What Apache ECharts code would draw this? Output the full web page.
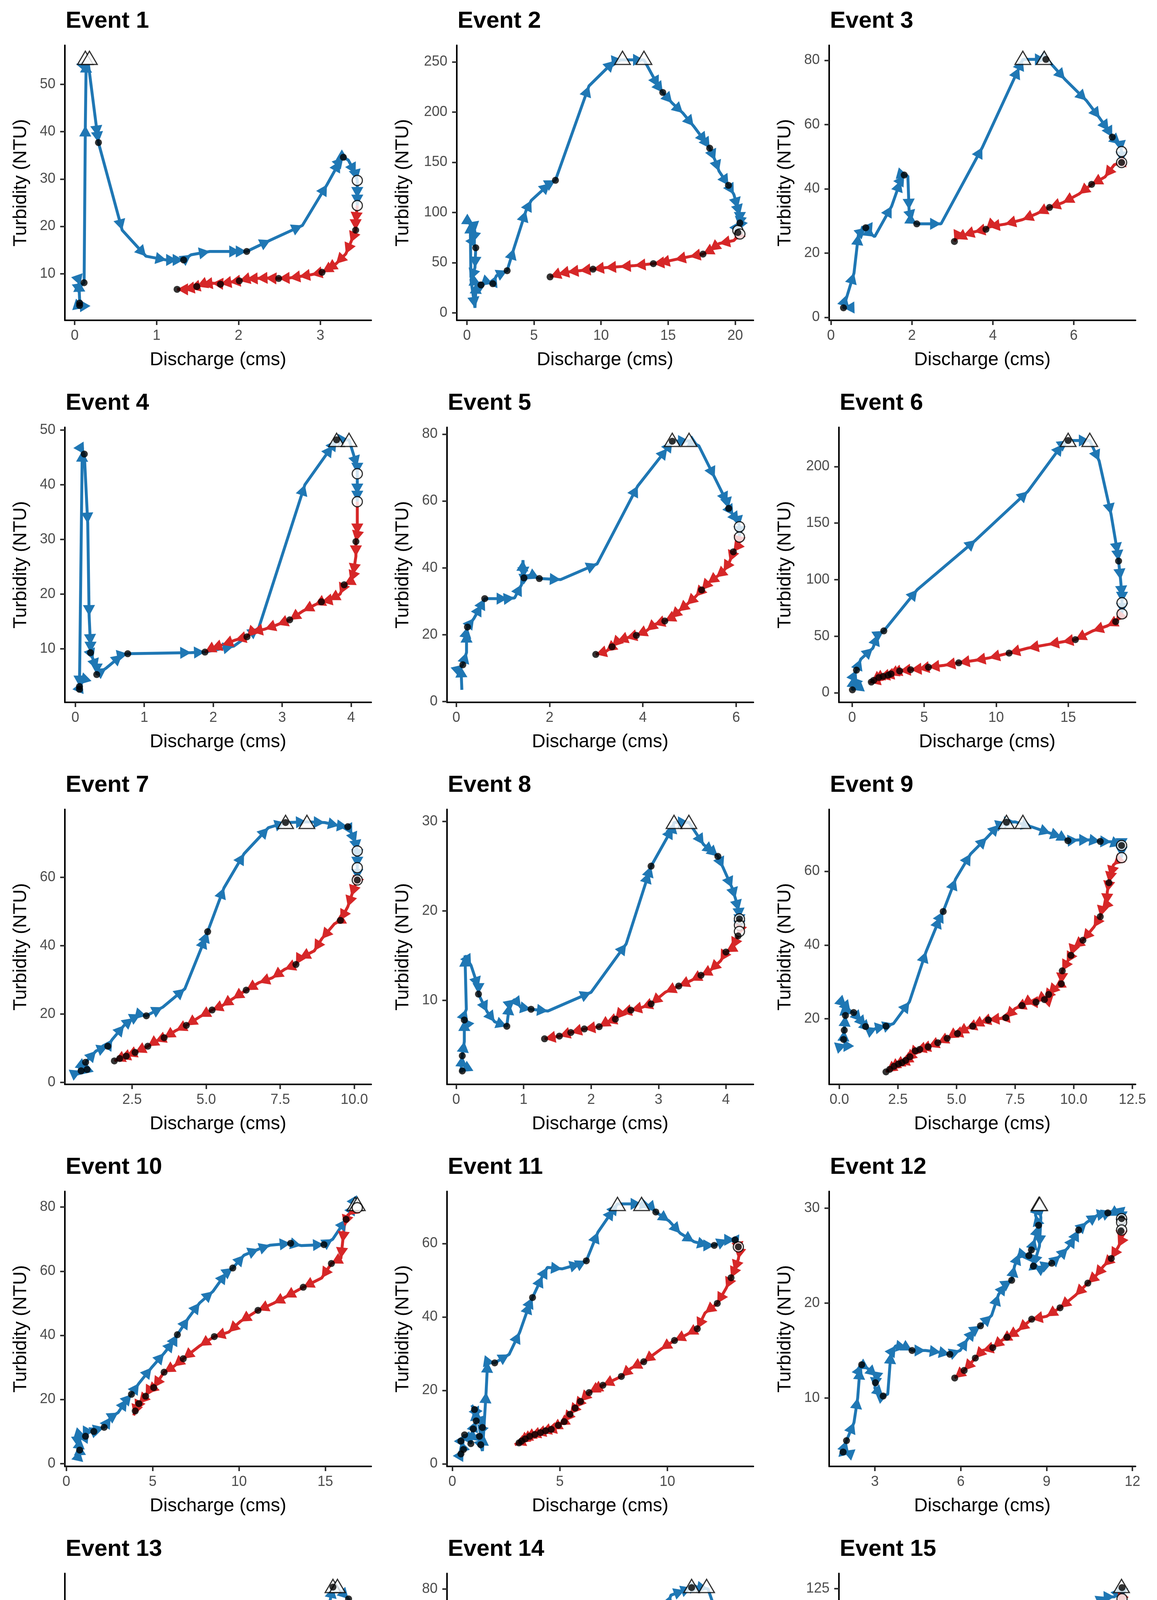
<!DOCTYPE html>
<html>
<head>
<meta charset="utf-8">
<script src="https://cdn.jsdelivr.net/npm/echarts@6.0.0/dist/echarts.min.js"></script>
<style>
  html, body { margin: 0; padding: 0; background: #fff; }
  #chart { width: 2961px; height: 5068px; }
</style>
</head>
<body>
<div id="chart"></div>
<script>
// ---- data: [discharge, turbidity] ----
const e1Rise = [[0.05,3.2],[0.12,2.8],[0.06,4.5],[0.05,8.5],[0.07,7.5],[0.115,8.1],[0.13,41.3],[0.14,54.8],[0.16,55.2],[0.28,39],[0.29,37.7],[0.58,19.2],[0.87,13.7],[1.12,12.9],[1.25,12.9],[1.33,12.9],[1.42,14],[1.65,14.7],[2.02,14.7],[2.1,14.7],[2.39,17.1],[2.78,20.2],[3.08,28.8],[3.24,33.8],[3.28,34.6],[3.34,34],[3.43,31.1],[3.45,29.7],[3.45,26],[3.45,24.4]];
const e1Fall = [[3.45,24.4],[3.43,20.7],[3.43,19.2],[3.37,16.6],[3.31,14.2],[3.19,12.1],[3.07,10.8],[3.02,10.3],[2.89,9.8],[2.74,9.4],[2.62,9.1],[2.49,9.0],[2.33,9.1],[2.22,9.0],[2.1,8.9],[2.01,8.5],[1.89,8.2],[1.78,7.9],[1.68,8.0],[1.55,7.7],[1.49,7.3],[1.4,6.9],[1.33,6.7],[1.25,6.7]];
const e1Dots = [[0.06,3.3],[0.06,3.8],[0.115,8.1],[0.29,37.7],[1.33,12.9],[2.1,14.7],[3.28,34.6],[3.43,19.2],[3.02,10.3],[2.49,9.0],[2.01,8.5],[1.78,7.8],[1.49,7.3],[1.25,6.7]];
const e1Peak = [[0.13,55.6],[0.18,55.6]];
const e1QMax = [[3.45,29.7],[3.45,24.4]];
const e1XTicks = [0, 1, 2, 3];
const e1YTicks = [10, 20, 30, 40, 50];

const e2Rise = [[0.3,35],[0.25,90],[0.5,88],[0.6,80],[0.45,70],[0.66,64.8],[0.6,45],[0.3,33],[0.6,5],[0.7,30],[1.05,27.8],[1.5,31],[1.93,29],[2.2,37],[3.0,42],[3.5,64],[4.4,101.5],[4.8,112],[6.2,129],[6.6,132],[9.1,226],[11.0,251],[11.6,252],[13.2,252],[14.3,225],[14.6,219.5],[15.3,209],[16.1,199],[16.9,186],[17.85,169],[18.1,164],[18.5,152],[18.8,141],[19.5,127],[19.9,118],[20.2,104],[20.35,97],[20.35,89.5],[20.3,85],[20.2,82],[20.35,78.5]];
const e2Fall = [[20.35,78.5],[19.9,72],[18.8,69],[18.1,62],[17.6,58.5],[16.6,56],[15.5,53],[14.3,49.6],[13.9,49],[12.5,47],[11.4,46],[10.3,45],[9.4,43.5],[8.4,42],[7.5,40.6],[6.8,38.7],[6.2,35.8]];
const e2Dots = [[0.66,64.8],[1.05,27.8],[1.93,29],[3.0,42],[6.6,132],[14.6,219.5],[18.1,164],[19.5,127],[20.35,89.5],[20.2,80],[17.6,58.5],[13.9,49],[9.4,43.5],[6.2,35.8]];
const e2Peak = [[11.6,254],[13.2,254]];
const e2QMax = [[20.2,82],[20.35,78.5]];
const e2XTicks = [0, 5, 10, 15, 20];
const e2YTicks = [0, 50, 100, 150, 200, 250];

const e3Rise = [[0.3,5],[0.45,3],[0.31,2.95],[0.57,13.8],[0.68,25.9],[0.86,27.9],[0.75,28],[1.08,25.1],[1.5,34.6],[1.72,42.5],[1.81,44.3],[1.9,44],[1.93,33.5],[2.0,30],[2.12,29.1],[2.72,29.1],[3.74,52.9],[4.65,77.7],[4.74,80.3],[5.31,80.3],[5.4,79.5],[5.78,74.1],[6.31,67.5],[6.64,62],[6.86,58.1],[6.95,56.1],[7.15,53.9],[7.18,51.6],[7.18,48.2]];
const e3Fall = [[7.18,48.2],[7.0,47.5],[6.77,43.7],[6.44,41.4],[6.13,38.4],[5.73,35.7],[5.4,34.2],[5.09,32.3],[4.73,30.4],[4.3,29],[3.9,28.2],[3.83,27.4],[3.54,26.6],[3.27,25.5],[3.08,24.4],[3.05,23.6]];
const e3Dots = [[0.31,2.95],[0.86,27.9],[1.81,44.3],[2.12,29.1],[5.31,80.3],[6.95,56.1],[7.18,48.2],[6.44,41.4],[5.4,34.2],[3.83,27.4],[3.05,23.6]];
const e3Peak = [[4.74,80.8],[5.27,80.8]];
const e3QMax = [[7.18,51.6],[7.18,48.2]];
const e3XTicks = [0, 2, 4, 6];
const e3YTicks = [0, 20, 40, 60, 80];

const e4Rise = [[0.05,2.5],[0.1,4],[0.06,3.5],[0.06,3.1],[0.1,46.2],[0.13,45.6],[0.18,32.9],[0.2,16],[0.22,10.7],[0.22,9.3],[0.26,8],[0.31,6.2],[0.31,5.3],[0.45,6.5],[0.68,8.9],[0.76,9.1],[1.68,9.3],[1.88,9.4],[2.3,10.5],[2.66,13.8],[3.33,40],[3.73,47.1],[3.79,48.2],[3.97,48.2],[4.09,43.3],[4.09,42],[4.09,38.2],[4.09,36.9]];
const e4Fall = [[4.09,36.9],[4.09,30.9],[4.07,29.6],[4.07,26.9],[4.03,23.6],[3.99,22.3],[3.9,21.7],[3.84,20],[3.68,18.9],[3.57,18.6],[3.47,18],[3.3,16.9],[3.11,15.3],[2.93,14.4],[2.75,13.6],[2.56,13.1],[2.49,12.2],[2.32,11.6],[2.13,10.7],[1.97,10],[1.88,9.4]];
const e4Dots = [[0.06,3.1],[0.06,2.6],[0.13,45.6],[0.22,9.3],[0.31,5.3],[0.76,9.1],[1.88,9.4],[3.79,48.2],[4.07,29.6],[3.9,21.7],[3.57,18.6],[3.11,15.3],[2.49,12.2]];
const e4Peak = [[3.79,48.2],[3.97,48.2]];
const e4QMax = [[4.09,42],[4.09,36.9]];
const e4XTicks = [0, 1, 2, 3, 4];
const e4YTicks = [10, 20, 30, 40, 50];

const e5Rise = [[0.12,3.5],[0.1,10.5],[0.14,11],[0.22,14.7],[0.22,20.9],[0.24,22.3],[0.38,24.9],[0.54,28.9],[0.61,30.8],[1.1,30.8],[1.25,31],[1.4,35],[1.43,42.3],[1.45,37],[1.6,38],[1.78,36.8],[2.24,36.5],[3.02,41.2],[3.89,64.5],[4.52,75.7],[4.63,77.9],[4.99,78],[5.2,76.5],[5.54,67],[5.81,59.4],[5.84,57.8],[5.94,55.7],[6.05,53.5],[6.07,52.3],[6.07,49.2]];
const e5Fall = [[6.07,49.2],[6.02,46.3],[5.94,44.8],[5.86,41.9],[5.73,39],[5.57,37.2],[5.39,35.4],[5.26,33.4],[5.13,31.4],[4.94,29],[4.76,27],[4.6,25],[4.47,24.1],[4.24,23],[4.08,21.2],[3.86,19.8],[3.64,19],[3.45,18],[3.34,16.4],[3.21,15],[2.99,14.1]];
const e5Dots = [[0.14,11],[0.24,22.3],[0.61,30.8],[1.45,37],[1.78,36.8],[4.63,77.9],[5.84,57.8],[5.94,44.8],[5.26,33.4],[4.47,24.1],[3.86,19.8],[3.34,16.4],[2.99,14.1]];
const e5Peak = [[4.63,78.3],[4.99,78.3]];
const e5QMax = [[6.07,52.3],[6.07,49.2]];
const e5XTicks = [0, 2, 4, 6];
const e5YTicks = [0, 20, 40, 60, 80];

const e6Rise = [[0.3,10],[0.1,3],[0.02,2.6],[0.1,14.5],[0.3,20],[0.6,29.7],[1.44,39.5],[1.8,51.4],[2.2,54.7],[4.52,91.1],[8.58,135],[12.2,178],[14.6,219.5],[15.0,223],[16.5,223],[17.15,205],[17.98,157.7],[18.44,123],[18.5,116.5],[18.64,100],[18.74,85],[18.74,79.6],[18.74,69.8]];
const e6Fall = [[18.74,69.8],[18.3,62.9],[17.7,59],[16.7,54.7],[15.5,47],[14.6,45],[13.6,42.7],[12.2,39.5],[10.9,35.1],[9.5,30.8],[8.5,28.6],[7.4,26.5],[6.4,24.3],[5.3,22.6],[4.6,21],[4.06,20.4],[3.3,19.3],[2.7,16.7],[2.5,15.6],[2.15,14.5],[1.85,13.5],[1.5,11],[1.33,9.5],[1.2,9]];
const e6Dots = [[0.02,2.6],[0.3,20],[2.2,54.7],[15.0,223],[18.5,116.5],[18.3,62.9],[15.5,47],[10.9,35.1],[7.4,26.5],[5.3,22.6],[4.06,20.4],[3.3,19.3],[2.7,16.7],[2.5,15.6],[2.15,14.5],[1.85,13.5],[1.5,11],[1.33,9.5]];
const e6Peak = [[15.0,223.6],[16.5,223.6]];
const e6QMax = [[18.74,79.6],[18.74,69.8]];
const e6XTicks = [0, 5, 10, 15];
const e6YTicks = [0, 50, 100, 150, 200];

const e7Rise = [[0.7,3.1],[0.78,3.4],[0.72,5.5],[0.98,3.8],[0.93,5.9],[1.28,9.2],[1.68,10.6],[1.83,12.6],[2.23,16.7],[2.53,18.8],[2.78,19.9],[2.98,19.5],[3.53,22],[4.28,27.4],[4.98,42.4],[5.05,44.1],[5.6,56.9],[6.28,66.9],[7.1,74.5],[7.68,76],[8.4,76.2],[9.0,76],[9.48,75.1],[9.78,74.8],[9.93,72.5],[10.05,70],[10.1,67.7],[10.1,65],[10.1,62.8],[10.1,59.2]];
const e7Fall = [[10.1,59.2],[10.0,57.1],[9.9,54.5],[9.78,51.4],[9.53,47.4],[9.33,46.4],[8.9,42],[8.65,38.5],[8.15,36.3],[8.03,34.5],[7.65,33.1],[7.23,30.6],[6.78,29.2],[6.35,27],[5.9,24.5],[5.53,22.4],[5.2,21.2],[4.78,19.2],[4.33,16.7],[3.98,15.2],[3.58,13.1],[3.28,12],[3.03,10.6],[2.6,8.8],[2.3,7.7],[2.08,7],[1.9,6.3]];
const e7Dots = [[0.78,3.4],[0.98,3.8],[0.93,5.9],[1.68,10.6],[2.98,19.5],[5.05,44.1],[7.68,76],[9.78,74.8],[10.1,59.2],[9.53,47.4],[8.03,34.5],[6.35,27],[5.2,21.2],[4.33,16.7],[3.58,13.1],[3.03,10.6],[2.6,8.8],[2.3,7.7],[2.08,7],[1.9,6.3]];
const e7Peak = [[7.68,76.2],[8.4,76.2]];
const e7QMax = [[10.1,67.7],[10.1,62.8],[10.1,59.2]];
const e7XTicks = [2.5, 5, 7.5, 10];
const e7YTicks = [0, 20, 40, 60];

const e8Rise = [[0.09,2.1],[0.07,2.0],[0.09,3.8],[0.12,5.4],[0.12,7.8],[0.1,8],[0.15,9],[0.13,15],[0.22,13.9],[0.33,11.4],[0.33,10.7],[0.46,8.7],[0.57,7.6],[0.75,7.1],[0.79,9.6],[0.87,10.1],[0.96,9.2],[1.11,9],[1.36,8.8],[2.0,10.9],[2.52,16.3],[2.86,24.3],[2.89,25],[3.21,29.3],[3.23,29.9],[3.45,29.9],[3.67,27.4],[3.82,26.5],[3.88,26.1],[3.96,24.8],[4.09,22.6],[4.14,21.4],[4.19,20],[4.2,19.1],[4.2,18.4],[4.2,17.7]];
const e8Fall = [[4.2,17.7],[4.18,17.2],[4.09,15.8],[4.0,15.4],[3.92,14.4],[3.76,13.3],[3.63,12.8],[3.48,12.2],[3.3,11.6],[3.1,10.9],[2.89,9.6],[2.75,9.2],[2.59,8.9],[2.44,8.6],[2.36,7.9],[2.22,7.5],[2.12,7.05],[1.9,6.8],[1.7,6.4],[1.53,6],[1.31,5.7]];
const e8Dots = [[0.09,2.1],[0.09,3.8],[0.12,7.8],[0.33,10.7],[0.75,7.1],[1.11,9],[2.89,25],[3.88,26.1],[4.2,19.1],[4.18,17.2],[4.0,15.4],[3.63,12.8],[3.3,11.6],[2.89,9.6],[2.59,8.9],[2.36,7.9],[2.12,7.05],[1.9,6.8],[1.7,6.4],[1.53,6],[1.31,5.7]];
const e8Peak = [[3.23,29.95],[3.45,29.95]];
const e8QMax = [[4.2,19.1],[4.2,18.4],[4.2,17.7]];
const e8XTicks = [0, 1, 2, 3, 4];
const e8YTicks = [10, 20, 30];

const e9Rise = [[0.16,12.7],[0.3,13],[0.18,14.4],[0.21,16.9],[0.26,20.9],[0.18,24],[0.3,23.3],[0.47,22],[0.61,21.7],[0.94,19.3],[1.12,17.9],[1.31,16.7],[1.6,17.5],[1.99,18],[2.31,18.7],[2.99,24.6],[3.7,38.2],[4.3,47.5],[4.43,49.1],[4.96,57.9],[5.6,64.7],[6.29,69.1],[6.81,72.6],[7.13,73.3],[7.5,73.4],[8.23,72],[9.01,70.3],[9.47,69.3],[9.75,68.3],[10.2,68.5],[10.7,68.5],[11.13,68.1],[11.6,68],[12.04,67],[12.04,66],[12.04,63.7]];
const e9Fall = [[12.04,63.7],[11.69,61.7],[11.55,58.5],[11.5,56.9],[11.43,54.4],[11.4,51],[11.2,49.5],[11.13,47.7],[10.85,44.8],[10.39,41.3],[9.99,39.3],[9.88,37.2],[9.7,35.2],[9.51,33],[9.47,29.5],[9.17,28.3],[8.93,26.6],[8.75,25.2],[8.6,25.5],[8.39,24.5],[8.0,24.5],[7.79,23.6],[7.5,22.8],[7.1,20.3],[6.8,20],[6.36,19.7],[6.0,19],[5.69,18],[5.4,17.3],[5.04,16],[4.8,15.5],[4.6,14.7],[4.2,13.5],[3.79,12.4],[3.43,11.7],[3.24,11.3],[3.01,9.7],[2.83,8.7],[2.67,8.1],[2.52,7.75],[2.33,7.1],[2.15,6.3],[1.99,5.6]];
const e9Dots = [[0.18,14.4],[0.21,16.9],[0.26,20.9],[0.61,21.7],[1.12,17.9],[1.99,18],[4.43,49.1],[7.13,73.3],[9.75,68.3],[11.13,68.1],[12.04,67],[11.5,56.9],[11.13,47.7],[10.39,41.3],[9.88,37.2],[9.51,33],[9.47,29.5],[8.93,26.6],[8.75,25.2],[8.39,24.5],[7.79,23.6],[7.1,20.3],[6.36,19.7],[5.69,18],[5.04,16],[4.6,14.7],[4.2,13.5],[3.79,12.4],[3.43,11.7],[3.24,11.3],[3.01,9.7],[2.83,8.7],[2.67,8.1],[2.52,7.75],[2.33,7.1],[2.15,6.3],[1.99,5.6]];
const e9Peak = [[7.13,73.4],[7.83,73.4]];
const e9QMax = [[12.04,67],[12.04,63.7]];
const e9XTicks = [0, 2.5, 5, 7.5, 10, 12.5];
const e9YTicks = [20, 40, 60];

const e10Rise = [[0.72,3.0],[0.77,4.2],[0.75,6],[0.8,8],[0.99,8.7],[1.11,8.5],[1.3,10],[1.59,10],[2.0,11],[2.19,11.3],[2.57,14.4],[3.0,15.9],[3.51,20],[3.77,21.6],[4.2,25],[4.93,29.9],[5.66,34.4],[6.22,38.2],[6.43,40.2],[7.07,45.4],[7.72,50.1],[8.49,53.7],[9.26,59.5],[9.64,61],[10.29,65],[11.14,66.9],[11.79,68.1],[12.99,68.7],[13.6,68],[14.92,68.3],[15.43,70],[16.2,76.2],[16.72,81],[16.85,79.8]];
const e10Fall = [[16.85,79.8],[16.3,77.5],[16.1,74.1],[16.0,69],[15.9,64],[15.35,62.4],[14.79,57.9],[13.72,55],[12.64,51.8],[12.0,50],[11.1,47.8],[10.07,44.3],[9.4,41],[8.57,39.6],[7.72,36.7],[6.77,32.7],[6.22,30.3],[5.66,28.5],[5.06,23.7],[4.7,22],[4.59,21],[4.2,18.7],[3.99,16.4],[3.9,15]];
const e10Dots = [[0.77,4.2],[1.11,8.5],[1.59,10],[2.19,11.3],[3.77,21.6],[6.43,40.2],[9.64,61],[12.99,68.7],[14.92,68.3],[16.2,76.2],[15.35,62.4],[13.72,55],[11.1,47.8],[8.57,39.6],[6.77,32.7],[5.66,28.5],[5.06,23.7],[4.59,21],[4.2,18.7],[3.99,16.4]];
const e10Peak = [[16.72,81],[16.85,81]];
const e10QMax = [[16.85,79.8]];
const e10XTicks = [0, 5, 10, 15];
const e10YTicks = [0, 20, 40, 60, 80];

const e11Rise = [[0.4,2.7],[0.52,3.9],[0.4,6.2],[0.57,7.9],[0.86,5.5],[0.97,9.5],[1.11,11.7],[1.03,14.8],[0.9,16],[1.26,12.5],[1.4,9.9],[1.26,7.5],[1.32,5.2],[1.4,3.5],[1.45,8],[1.57,19.5],[1.64,27.8],[1.97,27.5],[2.64,29.8],[3.13,35.8],[3.61,43.8],[3.73,45.3],[4.19,51.1],[4.42,53.5],[5.1,53.1],[5.96,54.5],[6.23,55.3],[6.77,63.1],[7.51,69.4],[7.68,70.8],[8.8,70.8],[9.23,70.1],[9.46,68.6],[10.09,66.1],[10.6,62.8],[11.24,60.5],[11.9,59.5],[12.18,59.5],[12.8,61],[13.15,61],[13.3,59.1]];
const e11Fall = [[13.3,59.1],[13.35,57.5],[13.3,55.8],[13.1,52.5],[12.96,50.7],[12.73,47.8],[12.32,43.7],[11.75,41.1],[11.39,36.8],[10.9,35.2],[10.33,33.6],[9.69,31.2],[8.9,27.8],[8.3,26],[7.86,23.8],[7.0,21.4],[6.48,19.8],[6.36,19.4],[5.96,17],[5.71,15.2],[5.47,13.5],[5.2,11.5],[4.93,10.5],[4.6,9.4],[4.34,9.0],[4.1,8.5],[3.84,8],[3.6,7.5],[3.39,6.8],[3.22,6.2],[3.1,5.7],[2.9,5.2]];
const e11Dots = [[0.4,2.7],[0.52,3.9],[0.4,6.2],[0.57,7.9],[0.86,5.5],[0.97,9.5],[1.11,11.7],[1.03,14.8],[1.4,9.9],[1.26,7.5],[1.32,5.2],[1.97,27.5],[3.73,45.3],[6.23,55.3],[9.46,68.6],[12.18,59.5],[13.15,61],[13.3,59.1],[12.96,50.7],[12.32,43.7],[11.39,36.8],[10.33,33.6],[8.9,27.8],[7.86,23.8],[7.0,21.4],[6.36,19.4],[5.96,17],[5.71,15.2],[5.47,13.5],[5.2,11.5],[4.93,10.5],[4.6,9.4],[4.34,9.0],[4.1,8.5],[3.84,8],[3.6,7.5],[3.39,6.8],[3.22,6.2],[3.1,5.7]];
const e11Peak = [[7.68,70.8],[8.8,70.8]];
const e11QMax = [[13.3,59.1]];
const e11XTicks = [0, 5, 10];
const e11YTicks = [0, 20, 40, 60];

const e12Rise = [[1.9,4.3],[2.15,4.1],[1.89,4.4],[2.01,5.5],[2.27,7.4],[2.4,10],[2.48,13.1],[2.54,13.5],[2.8,13],[3.06,12.3],[3.02,11.6],[3.0,11],[3.29,10.2],[3.45,10.4],[3.56,14.75],[3.73,15.5],[4.12,15.3],[4.3,15],[4.77,15],[5.3,14.8],[5.62,14.6],[5.98,15],[6.24,16.2],[6.5,17.2],[6.69,17.6],[7.08,18.7],[7.32,20.9],[7.58,22],[7.78,22.4],[7.88,23.9],[8.05,25.2],[8.38,25.0],[8.47,25.6],[8.6,26.8],[8.72,28.2],[8.61,29.3],[8.74,30.45],[8.8,29],[8.75,26],[8.54,23.9],[8.8,23.6],[9.0,24],[9.18,24.2],[9.48,25],[9.74,25.8],[10.0,27],[10.12,27.7],[10.4,28.5],[10.8,29.3],[11.14,29.5],[11.3,29.7],[11.6,29.2],[11.62,28.9],[11.62,28.5],[11.62,27.7]];
const e12Fall = [[11.62,27.7],[11.6,26.5],[11.5,25.9],[11.26,24.7],[10.99,23.9],[10.7,22.8],[10.44,22.1],[10.0,20.8],[9.47,19.5],[9.0,18.6],[8.48,18.3],[8.0,17.1],[7.62,16.4],[7.4,16],[7.12,15.3],[6.76,15],[6.51,14.2],[6.12,12.9],[5.79,12.1]];
const e12Dots = [[1.89,4.3],[2.01,5.5],[2.54,13.5],[3.02,11.6],[3.29,10.2],[4.3,15],[5.62,14.6],[6.69,17.6],[7.78,22.4],[8.38,25.0],[8.47,25.6],[8.72,28.2],[8.54,23.9],[9.18,24.2],[10.12,27.7],[11.14,29.5],[11.62,28.9],[11.6,27.6],[11.26,24.7],[10.44,22.1],[9.47,19.5],[8.48,18.3],[7.62,16.4],[7.12,15.3],[6.51,14.2],[6.12,12.9],[5.79,12.1]];
const e12Peak = [[8.73,30.45],[8.76,30.45]];
const e12QMax = [[11.62,28.9],[11.62,28.5],[11.62,27.7]];
const e12XTicks = [3, 6, 9, 12];
const e12YTicks = [10, 20, 30];

const e13Rise = [[0.25,3.5],[0.34,3.3],[0.28,4.5],[0.5,4.5],[0.76,4.3],[0.9,6.6],[1.04,6.6],[1.3,6.8],[1.51,6.6],[1.54,5.4],[2.38,6.3],[3.42,7.1],[4.4,11.4],[4.62,12.3],[5.38,13.5],[6.16,19.6],[7.06,30.6],[7.4,31.8],[7.76,31.5],[8.32,30.4],[8.74,30.1],[8.96,30],[9.3,30.2],[9.5,37.6],[9.66,43],[9.86,47.4],[10.2,46.5],[10.45,45.3],[10.7,42.2],[10.73,40.7],[10.76,39.5],[10.78,38.6],[10.78,37.8]];
const e13Fall = [[10.78,37.8],[10.64,35.5],[10.42,33.5],[10.17,32.2],[10.0,31],[9.52,30.5],[9.3,29.2],[9.0,29],[8.63,27.6],[8.18,26.8],[7.56,25.8],[7.2,24.7],[6.9,24],[6.5,23.1],[6.2,22.5],[5.94,22.3],[5.57,21.3],[5.3,20.5],[5.07,20]];
const e13Dots = [[0.34,3.3],[0.3,3.8],[0.76,4.3],[1.04,6.6],[1.51,6.6],[1.54,5.4],[4.62,12.3],[7.76,31.5],[8.96,30],[9.86,47.4],[10.45,45.3],[10.73,40.7],[10.78,37.6],[10.17,32.2],[9.52,30.5],[8.63,27.6],[7.56,25.8],[6.5,23.1],[5.57,21.3],[5.07,20]];
const e13Peak = [[9.86,47.6],[10.03,47.6]];
const e13QMax = [[10.78,38.6],[10.78,37.8]];
const e13XTicks = [0, 3, 6, 9];
const e13YTicks = [10, 20, 30, 40];

const e14Rise = [[0.42,5.1],[0.28,9.4],[0.37,17.1],[0.38,18.4],[0.5,19.8],[0.63,20.4],[0.74,22.6],[0.92,23.7],[1.08,23.1],[1.42,24.8],[1.55,25],[1.89,47],[2.08,48.9],[2.2,49],[2.33,48.4],[2.32,38.3],[2.34,32.4],[2.36,29.5],[2.92,35.4],[3.03,36.1],[3.23,38.4],[3.6,40.8],[3.75,42],[4.29,60.6],[4.76,78.1],[5.05,79.6],[5.2,80.4],[5.4,80.4],[5.55,80],[5.87,66.8],[6.07,55.1],[6.2,48.4],[6.22,46.3],[6.22,42.3],[6.22,40.5],[6.22,38.3]];
const e14Fall = [[6.22,38.3],[6.1,35.5],[6.0,34.5],[5.81,31.3],[5.55,29.1],[5.44,26.2],[5.18,25.1],[4.9,24.3],[4.71,23.7],[4.56,21.7],[4.23,19.6],[3.9,20.2],[3.6,21.2],[3.21,22.9],[3.55,29],[3.58,38.5],[3.56,55],[3.55,62],[3.4,46.3],[3.29,40.5],[3.2,36.1],[3.15,33.2],[3.17,29.4],[3.5,28.5],[3.77,26.9],[4.05,25.2],[4.3,23.1],[4.45,22],[4.2,20.5],[3.9,18.5],[3.56,17.6],[3.3,17.0],[3.0,16.3],[2.75,15.2],[2.52,14.2],[2.35,13.6],[2.19,13.1]];
const e14Dots = [[0.38,18.4],[1.08,23.1],[2.33,48.4],[3.03,36.1],[3.23,38.4],[5.2,80.4],[6.22,46.3],[6.0,34.5],[5.44,26.2],[4.71,23.7],[4.56,21.7],[4.3,23.1],[4.23,19.6],[3.77,26.9],[3.6,21.2],[3.56,17.6],[3.55,62],[3.21,22.9],[3.17,29.4],[3.0,16.3],[2.52,14.2],[2.19,13.1]];
const e14Peak = [[5.2,80.9],[5.52,80.9]];
const e14QMax = [[6.22,46.3],[6.22,40.5],[6.22,38.3]];
const e14XTicks = [0, 2, 4, 6];
const e14YTicks = [20, 40, 60, 80];

const e15Rise = [[0.4,3.6],[0.45,6.5],[0.42,3.9],[0.64,4.4],[0.86,4.7],[0.72,12.4],[1.19,12.1],[1.5,11],[1.73,9.5],[1.76,7.1],[1.98,6.5],[2.47,10],[2.65,8.9],[2.88,8.3],[3.03,11.3],[3.4,13],[3.74,14.8],[4.44,21.3],[4.81,26.1],[5.26,30.8],[5.66,32.3],[5.78,36.1],[6.53,43.2],[7.05,53.3],[7.5,58.6],[7.87,59.8],[8.61,62.8],[9.21,66.9],[10.03,74],[10.25,76.4],[10.63,82.9],[11.37,92.4],[11.89,95.4],[12.41,98.9],[12.74,99.5],[13.53,105.5],[13.76,107.8],[14.43,113.7],[14.77,116.1],[15.17,118.5],[15.84,120.9],[16.3,121],[16.75,125.5],[16.7,120]];
const e15Fall = [[16.7,120],[16.54,117.3],[16.44,109],[16.41,106],[15.95,98.3],[15.77,89.5],[15.32,83.5],[14.62,78.6],[14.43,74.6],[13.76,69.9],[13.1,66],[12.38,62],[11.67,59.2],[11.1,56],[10.63,53.4],[10.21,51.8],[9.36,48.6],[8.61,45],[8.26,43.8],[7.42,40.3],[6.9,36.7],[6.38,33.8],[5.78,30],[5.48,24.5],[5.29,22.5],[4.99,19.3],[4.74,17.2],[4.4,15.4],[4.0,13.6],[3.7,12.4],[3.4,11.3],[3.1,10.1],[2.8,8.3]];
const e15Dots = [[0.42,3.9],[0.64,4.4],[0.86,4.7],[1.19,12.1],[1.73,9.5],[1.76,7.1],[1.98,6.5],[2.47,10],[2.65,8.9],[2.88,8.3],[3.03,11.3],[3.74,14.8],[5.66,32.3],[7.87,59.8],[10.25,76.4],[12.74,99.5],[14.77,116.1],[16.75,125.5],[16.41,106],[14.62,78.6],[12.38,62],[10.21,51.8],[8.26,43.8],[6.9,36.7],[5.78,30],[5.68,31.4],[5.48,24.5],[5.29,22.5],[4.99,19.3],[4.74,17.2],[4.4,15.4],[4.0,13.6],[3.7,12.4],[3.4,11.3],[3.1,10.1],[2.8,8.3]];
const e15Peak = [[16.72,126.3]];
const e15QMax = [[16.75,120]];
const e15XTicks = [0, 5, 10, 15];
const e15YTicks = [0, 25, 50, 75, 100, 125];

const riseList = [e1Rise, e2Rise, e3Rise, e4Rise, e5Rise, e6Rise, e7Rise, e8Rise, e9Rise, e10Rise, e11Rise, e12Rise, e13Rise, e14Rise, e15Rise];
const fallList = [e1Fall, e2Fall, e3Fall, e4Fall, e5Fall, e6Fall, e7Fall, e8Fall, e9Fall, e10Fall, e11Fall, e12Fall, e13Fall, e14Fall, e15Fall];
const dotList = [e1Dots, e2Dots, e3Dots, e4Dots, e5Dots, e6Dots, e7Dots, e8Dots, e9Dots, e10Dots, e11Dots, e12Dots, e13Dots, e14Dots, e15Dots];
const peakList = [e1Peak, e2Peak, e3Peak, e4Peak, e5Peak, e6Peak, e7Peak, e8Peak, e9Peak, e10Peak, e11Peak, e12Peak, e13Peak, e14Peak, e15Peak];
const qmaxList = [e1QMax, e2QMax, e3QMax, e4QMax, e5QMax, e6QMax, e7QMax, e8QMax, e9QMax, e10QMax, e11QMax, e12QMax, e13QMax, e14QMax, e15QMax];
const xTickList = [e1XTicks, e2XTicks, e3XTicks, e4XTicks, e5XTicks, e6XTicks, e7XTicks, e8XTicks, e9XTicks, e10XTicks, e11XTicks, e12XTicks, e13XTicks, e14XTicks, e15XTicks];
const yTickList = [e1YTicks, e2YTicks, e3YTicks, e4YTicks, e5YTicks, e6YTicks, e7YTicks, e8YTicks, e9YTicks, e10YTicks, e11YTicks, e12YTicks, e13YTicks, e14YTicks, e15YTicks];

// ---- layout / style ----
const BLUE = '#1F77B4';
const RED = '#D62728';
const FONT = '"Liberation Sans", Arial, sans-serif';
const COL_W = 978, ROW_H = 978;
const PLOT_TOP = 116, PLOT_H = 704, PLOT_RIGHT = 950;
const ARROW = [31, 28];

// ggplot style limits: data range +/- 5%
function padRange(vals) {
  const lo = Math.min(...vals), hi = Math.max(...vals);
  const p = (hi - lo) * 0.05;
  return [lo - p, hi + p];
}
function tickFmt(ticks) {
  const dec = ticks.some(t => t % 1 !== 0);
  return v => dec ? v.toFixed(1) : String(v);
}

const chart = echarts.init(document.getElementById('chart'));
const grids = [], xAxes = [], yAxes = [], series = [], graphics = [];

for (let i = 0; i < 15; i++) {
  const r = Math.floor(i / 3), c = i % 3;
  const xt = xTickList[i], yt = yTickList[i];
  const L = Math.max(...yt) >= 100 ? 191 : 166;
  const all = riseList[i].concat(fallList[i], dotList[i], peakList[i], qmaxList[i]);
  const xr = padRange(all.map(p => p[0]));
  const yr = padRange(all.map(p => p[1]));

  grids.push({ left: c * COL_W + L, top: r * ROW_H + PLOT_TOP, width: PLOT_RIGHT - L, height: PLOT_H, outerBoundsMode: 'none' });

  const axisCommon = {
    type: 'value', gridIndex: i, nameLocation: 'middle',
    splitLine: { show: false },
    axisLine: { show: true, onZero: false, lineStyle: { color: '#000', width: 4 } },
    nameTextStyle: { fontSize: 48, color: '#000', fontFamily: FONT }
  };
  xAxes.push(Object.assign({}, axisCommon, {
    min: xr[0], max: xr[1], name: 'Discharge (cms)', nameGap: 78,
    axisTick: { show: true, length: 12, lineStyle: { color: '#333', width: 4 }, customValues: xt },
    axisLabel: { customValues: xt, formatter: tickFmt(xt), color: '#4D4D4D', fontSize: 36, fontFamily: FONT, margin: 22 }
  }));
  yAxes.push(Object.assign({}, axisCommon, {
    min: yr[0], max: yr[1], name: 'Turbidity (NTU)', nameGap: L - 54 - 24,
    axisTick: { show: true, length: 12, lineStyle: { color: '#333', width: 4 }, customValues: yt },
    axisLabel: { customValues: yt, formatter: tickFmt(yt), color: '#4D4D4D', fontSize: 36, fontFamily: FONT, margin: 24 }
  }));

  const lineCommon = {
    type: 'line', xAxisIndex: i, yAxisIndex: i, showAllSymbol: true, clip: false,
    symbol: 'triangle', symbolSize: ARROW, z: 2, silent: true
  };
  series.push(Object.assign({}, lineCommon, {
    id: 'rise' + i, data: riseList[i],
    lineStyle: { color: BLUE, width: 7.5 }, itemStyle: { color: BLUE }
  }));
  series.push(Object.assign({}, lineCommon, {
    id: 'fall' + i, data: fallList[i],
    lineStyle: { color: RED, width: 7.5 }, itemStyle: { color: RED }
  }));
  series.push({
    type: 'scatter', xAxisIndex: i, yAxisIndex: i, data: peakList[i], clip: false, silent: true,
    symbol: 'triangle', symbolSize: [40, 34], z: 3,
    itemStyle: { color: '#fff', borderColor: '#000', borderWidth: 3 }
  });
  series.push({
    type: 'scatter', xAxisIndex: i, yAxisIndex: i, data: qmaxList[i], clip: false, silent: true,
    symbol: 'circle', symbolSize: 26, z: 3,
    itemStyle: { color: '#fff', borderColor: '#000', borderWidth: 3 }
  });
  series.push({
    type: 'scatter', xAxisIndex: i, yAxisIndex: i, data: dotList[i], clip: false, silent: true,
    symbol: 'circle', symbolSize: 18, z: 4, itemStyle: { color: '#000' }
  });

  graphics.push({
    type: 'text', x: c * COL_W + L + 2, y: r * ROW_H + 54,
    style: { text: 'Event ' + (i + 1), fontSize: 60, fontWeight: 'bold', fontFamily: FONT, fill: '#000', verticalAlign: 'middle' }
  });
}

graphics.push({
  type: 'text', x: 1478, y: 5014,
  style: {
    text: '{n|(}{b|a}{n|)}', align: 'center', verticalAlign: 'middle',
    rich: {
      n: { fontSize: 56, fontFamily: '"Liberation Serif", serif', fill: '#000' },
      b: { fontSize: 56, fontFamily: '"Liberation Serif", serif', fontWeight: 'bold', fill: '#000' }
    }
  }
});

chart.setOption({
  animation: false,
  backgroundColor: '#fff',
  grid: grids, xAxis: xAxes, yAxis: yAxes, series: series, graphic: graphics
});

// arrowheads: rotate each symbol along its incoming segment, tip on the point
function arrowData(pts, gi) {
  const px = pts.map(p => chart.convertToPixel({ xAxisIndex: gi, yAxisIndex: gi }, p));
  let ang = 0, ux = 0, uy = -1;
  return pts.map((p, k) => {
    if (k === 0) return { value: p, symbol: 'none' };
    const dx = px[k][0] - px[k - 1][0], dy = px[k][1] - px[k - 1][1];
    const len = Math.hypot(dx, dy);
    if (len > 0.5) {
      ux = dx / len; uy = dy / len;
      ang = Math.atan2(-dy, dx) * 180 / Math.PI - 90;
    }
    return { value: p, symbolRotate: ang, symbolOffset: [-ux * ARROW[1] / 2, -uy * ARROW[1] / 2] };
  });
}
const upd = [];
for (let i = 0; i < 15; i++) {
  upd.push({ id: 'rise' + i, data: arrowData(riseList[i], i) });
  upd.push({ id: 'fall' + i, data: arrowData(fallList[i], i) });
}
chart.setOption({ series: upd });
</script>
</body>
</html>
